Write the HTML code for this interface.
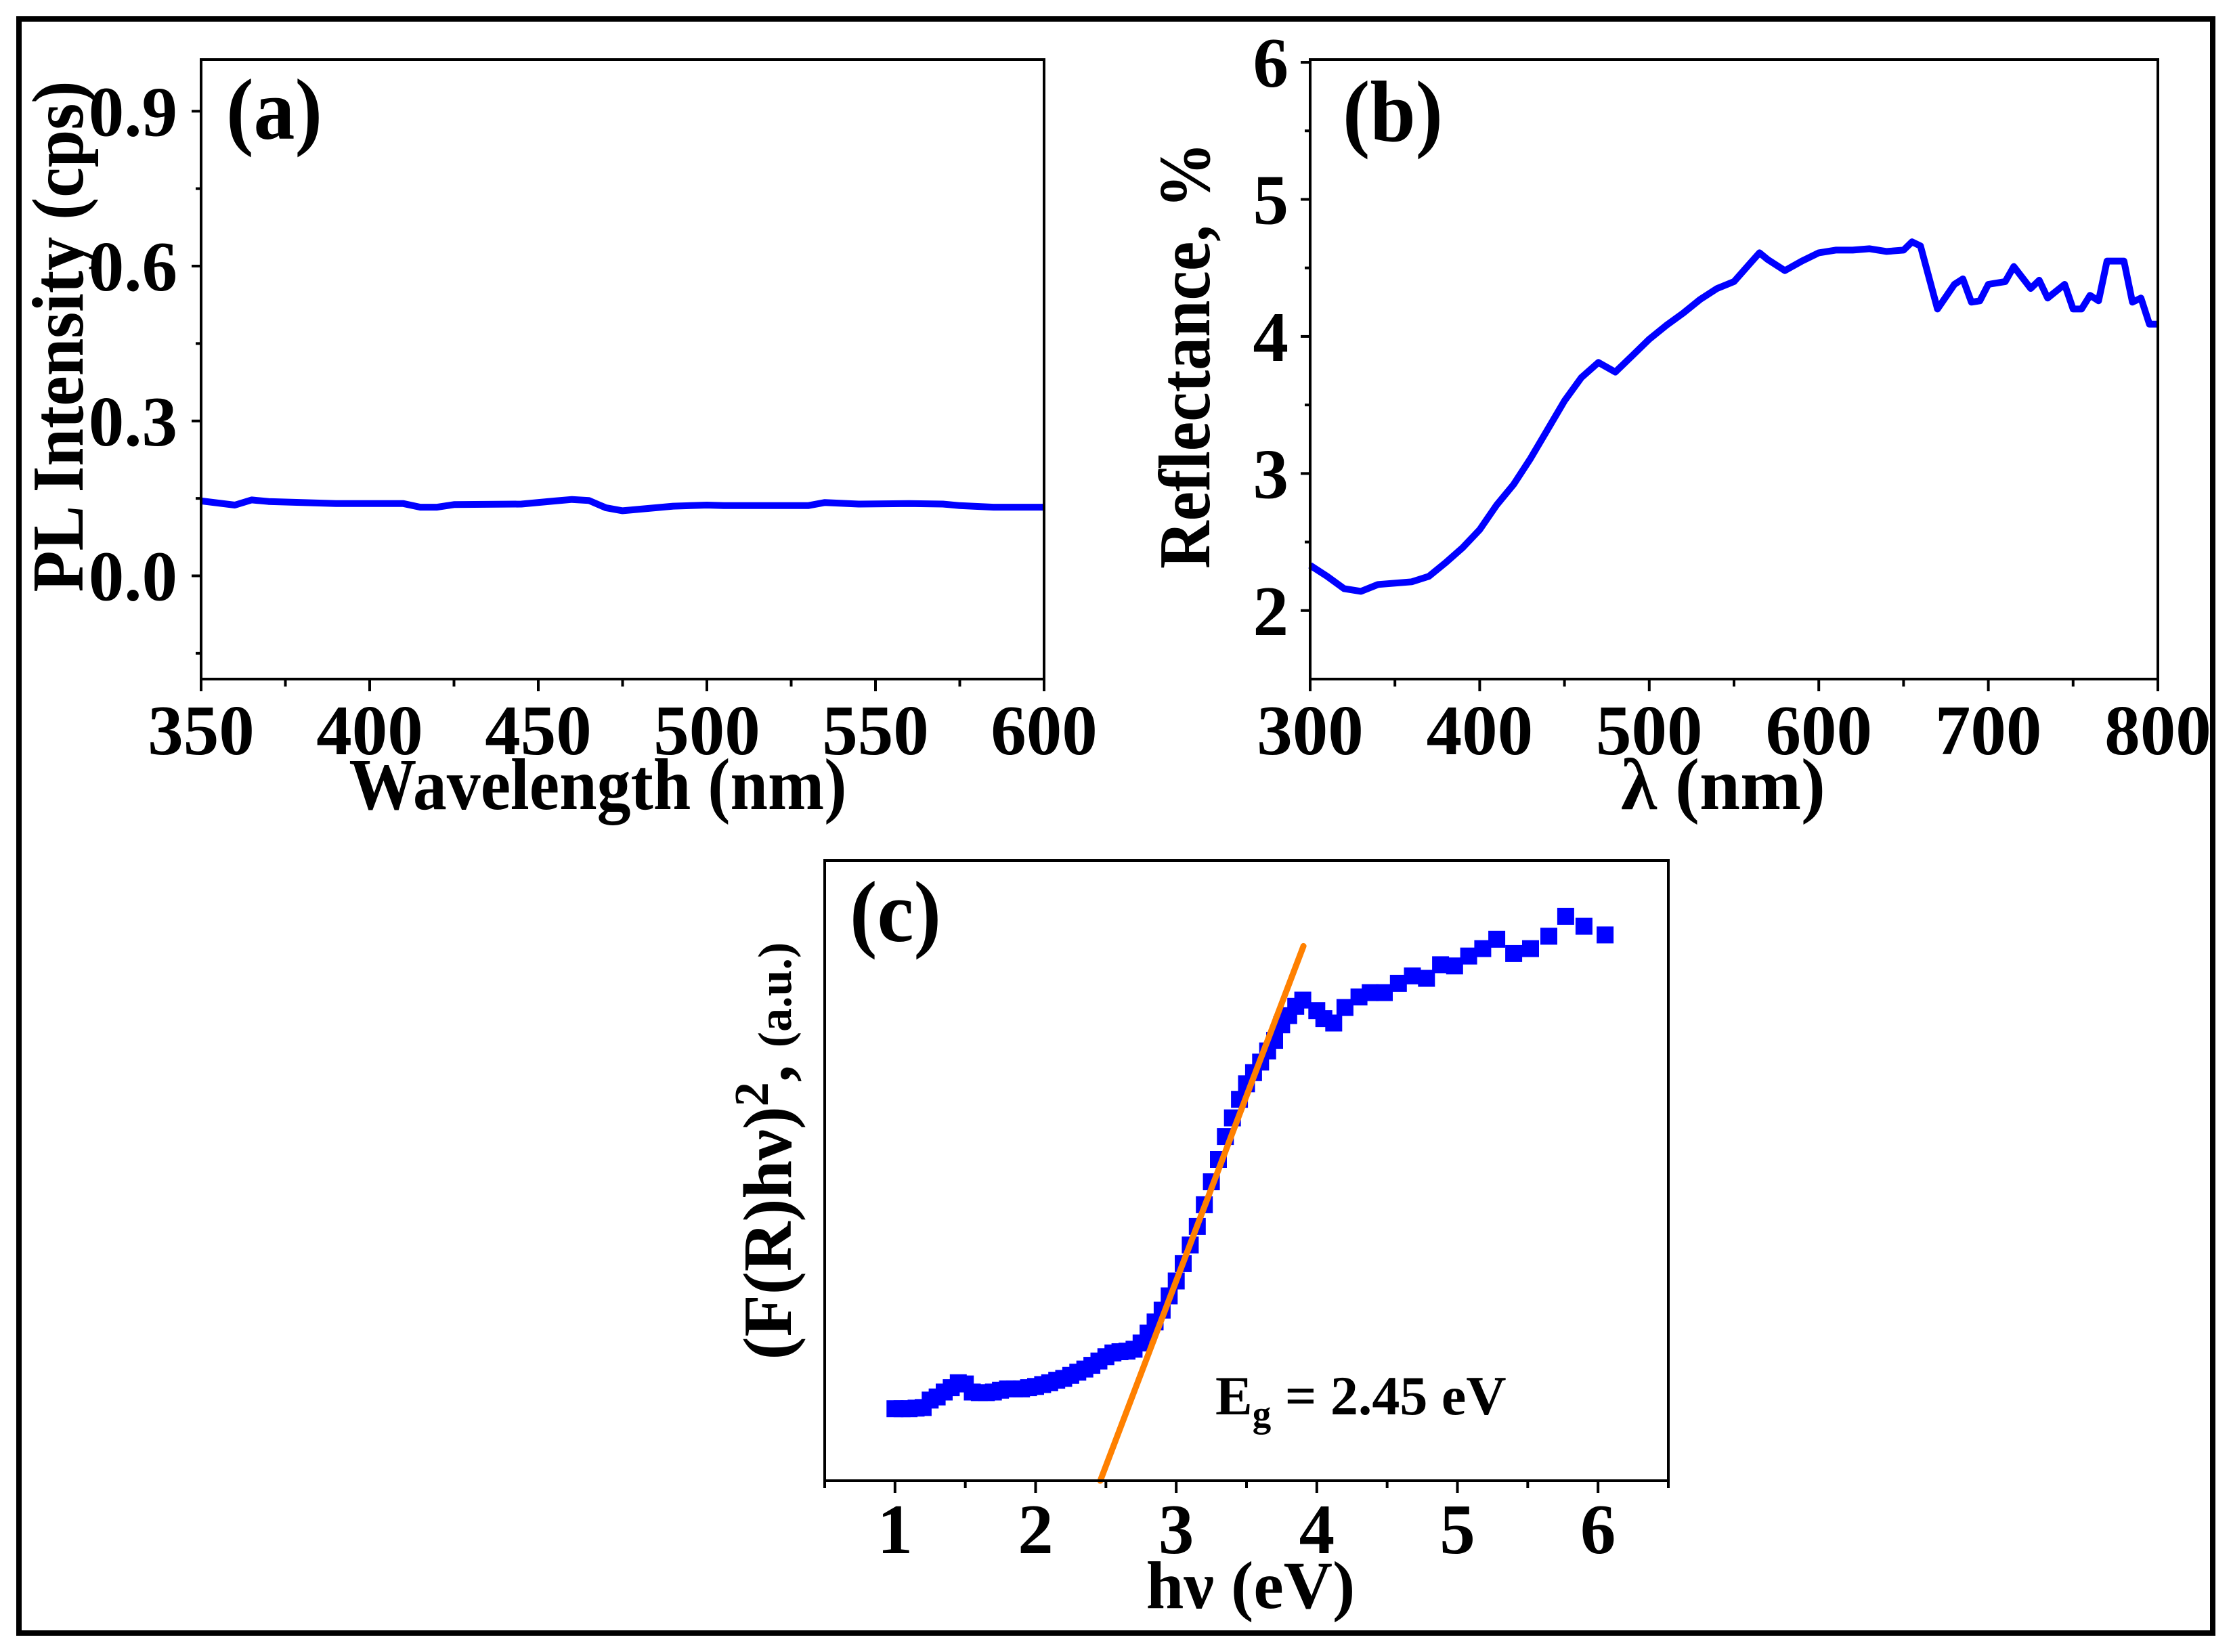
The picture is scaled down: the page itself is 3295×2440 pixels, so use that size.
<!DOCTYPE html>
<html><head><meta charset="utf-8"><style>
html,body{margin:0;padding:0;background:#fff}
svg{display:block}
text{font-family:"Liberation Serif",serif;font-weight:bold;fill:#000}
</style></head><body>
<svg id="fig" width="3295" height="2440" viewBox="0 0 3295 2440" xmlns="http://www.w3.org/2000/svg">
<rect x="0" y="0" width="3295" height="2440" fill="#fff"/>
<rect x="28" y="28" width="3240" height="2384" fill="none" stroke="#000" stroke-width="8"/>
<g id="pa"></g>
<g id="pb"></g>
<g id="pc"></g>
</svg>
<script>
// Panel (a) data
const aX = [350,360,365,370,390,410,415,420,425,445,455,460,465,470,475,490,500,505,530,535,545,560,570,575,585,600];
const aY = [0.145,0.137,0.147,0.144,0.140,0.140,0.133,0.133,0.138,0.139,0.145,0.148,0.146,0.132,0.126,0.135,0.137,0.136,0.136,0.142,0.139,0.140,0.139,0.136,0.133,0.133];
const aXTicks = ["350","400","450","500","550","600"];
const aYTicks = ["0.0","0.3","0.6","0.9"];
// Panel (b) data
const bX = [300,310,320,330,340,350,360,370,380,390,400,410,420,430,440,450,460,470,480,490,500,510,520,530,540,550,560,565,570,580,590,600,610,620,630,640,650,655,660,670,680,685,690,695,700,710,715,725,730,735,745,750,755,760,765,770,780,785,790,795,800];
const bY = [2.33,2.25,2.16,2.14,2.19,2.20,2.21,2.25,2.35,2.46,2.59,2.77,2.92,3.11,3.32,3.53,3.70,3.81,3.74,3.86,3.98,4.08,4.17,4.27,4.35,4.40,4.54,4.61,4.56,4.48,4.55,4.61,4.63,4.63,4.64,4.62,4.63,4.69,4.66,4.20,4.38,4.42,4.25,4.26,4.38,4.40,4.51,4.35,4.41,4.28,4.38,4.20,4.20,4.30,4.26,4.55,4.55,4.25,4.28,4.09,4.09];
const bXTicks = ["300","400","500","600","700","800"];
const bYTicks = ["2","3","4","5","6"];
// Panel (c) data
const cX = [1.00,1.05,1.10,1.15,1.20,1.25,1.30,1.35,1.40,1.45,1.50,1.55,1.60,1.65,1.70,1.75,1.80,1.85,1.90,1.95,2.00,2.05,2.10,2.15,2.20,2.25,2.30,2.35,2.40,2.45,2.50,2.55,2.60,2.65,2.70,2.75,2.80,2.85,2.90,2.95,3.00,3.05,3.10,3.15,3.20,3.25,3.30,3.35,3.40,3.45,3.50,3.55,3.60,3.65,3.70,3.75,3.80,3.85,3.90,4.00,4.05,4.12,4.20,4.30,4.38,4.48,4.58,4.68,4.78,4.88,4.98,5.08,5.18,5.28,5.40,5.52,5.65,5.77,5.90,6.05];
const cY = [11.6,11.6,11.6,11.7,11.8,13.0,13.5,14.3,15.0,15.8,15.6,14.3,14.2,14.2,14.3,14.6,14.8,14.8,14.8,15.0,15.2,15.5,15.8,16.2,16.5,17.0,17.5,18.0,18.6,19.3,20.0,20.6,20.8,20.9,21.2,22.2,23.8,25.6,27.5,29.8,32.2,35.0,38.0,41.0,44.5,48.2,51.8,55.5,58.5,61.5,64.0,65.8,67.5,69.3,71.0,73.5,75.0,76.5,77.5,75.8,74.5,73.8,76.3,78.0,78.7,78.7,80.2,81.4,81.0,83.2,83.0,84.6,85.8,87.3,85.0,85.8,87.8,91.0,89.4,88.0];
const cXTicks = ["1","2","3","4","5","6"];
const fitX = [2.46,3.905];
const fitY = [0,86.2];

const NS="http://www.w3.org/2000/svg";
function mk(parent,tag,attrs){const e=document.createElementNS(NS,tag);for(const k in attrs)e.setAttribute(k,attrs[k]);parent.appendChild(e);return e;}
function scale(d0,d1,r0,r1){return v=>r0+(v-d0)/(d1-d0)*(r1-r0);}

function axesBox(g,L,T,R,B,name){
  const r=mk(g,'rect',{x:L,y:T,width:R-L,height:B-T,fill:'none',stroke:'#000','stroke-width':4});
  
  
}
function xTicks(g,sx,B,labels,minors,ly,fs,name){
  labels.forEach(t=>{const v=parseFloat(t);const x=sx(v);
    const l=mk(g,'line',{x1:x,y1:B,x2:x,y2:B+18,stroke:'#000','stroke-width':4});
    
    
    const tx=mk(g,'text',{x:x,y:ly,'text-anchor':'middle','font-size':fs});tx.textContent=t;
    
    
  });
  minors.forEach(v=>{const x=sx(v);
    const l=mk(g,'line',{x1:x,y1:B,x2:x,y2:B+11,stroke:'#000','stroke-width':4});
    
    
  });
}
function yTicks(g,sy,L,labels,minors,lx,fs,name){
  labels.forEach(t=>{const v=parseFloat(t);const y=sy(v);
    const l=mk(g,'line',{x1:L-14,y1:y,x2:L,y2:y,stroke:'#000','stroke-width':4});
    
    
    const tx=mk(g,'text',{x:lx,y:y+36,'text-anchor':'end','font-size':fs});tx.textContent=t;
    
    
  });
  minors.forEach(v=>{const y=sy(v);
    const l=mk(g,'line',{x1:L-8,y1:y,x2:L,y2:y,stroke:'#000','stroke-width':4});
    
    
  });
}
function txt(g,x,y,s,fs,name,extra){const t=mk(g,'text',Object.assign({x:x,y:y,'font-size':fs},extra||{}));t.textContent=s;
  
  return t;}
function line(g,xs,ys,sx,sy,name){
  const d=xs.map((v,i)=>(i?'L':'M')+sx(v).toFixed(1)+' '+sy(ys[i]).toFixed(1)).join(' ');
  const p=mk(g,'path',{d:d,fill:'none',stroke:'#0000ff','stroke-width':10,'stroke-linejoin':'round'});
  
  
}

// ---- Panel a
(function(){
  const g=document.getElementById('pa');
  const L=297,T=88,R=1542,B=1003;
  const sx=scale(350,600,L,R), sy=scale(-0.2,1.0,B,T);
  line(g,aX,aY,sx,sy,'pl-intensity-line');
  axesBox(g,L,T,R,B,'panel-a');
  xTicks(g,sx,B,aXTicks,[375,425,475,525,575],1114,105,'panel-a');
  yTicks(g,sy,L,aYTicks,[-0.15,0.15,0.45,0.75],262,105,'panel-a');
  txt(g,883,1195,'Wavelength (nm)',108,'panel-a-x-axis-title',{'text-anchor':'middle',textLength:735,lengthAdjust:'spacingAndGlyphs'});
  txt(g,0,0,'PL Intensity (cps)',108,'panel-a-y-axis-title',{'text-anchor':'middle',transform:'translate(122,497) rotate(-90)',textLength:755,lengthAdjust:'spacingAndGlyphs'});
  txt(g,334,205,'(a)',128,'panel-a-label',{textLength:142,lengthAdjust:'spacingAndGlyphs'});
})();
// ---- Panel b
(function(){
  const g=document.getElementById('pb');
  const L=1935,T=88,R=3187,B=1003;
  const sx=scale(300,800,L,R), sy=scale(1.5,6.02,B,T);
  line(g,bX,bY,sx,sy,'reflectance-line');
  axesBox(g,L,T,R,B,'panel-b');
  xTicks(g,sx,B,bXTicks,[350,450,550,650,750],1114,105,'panel-b');
  yTicks(g,sy,L,bYTicks,[2.5,3.5,4.5,5.5],1903,105,'panel-b');
  txt(g,2545,1195,'λ (nm)',108,'panel-b-x-axis-title',{'text-anchor':'middle'});
  txt(g,0,0,'Reflectance, %',108,'panel-b-y-axis-title',{'text-anchor':'middle',transform:'translate(1786,525) rotate(-90)',textLength:630,lengthAdjust:'spacingAndGlyphs'});
  txt(g,1983,208,'(b)',128,'panel-b-label',{textLength:148,lengthAdjust:'spacingAndGlyphs'});
})();
// ---- Panel c
(function(){
  const g=document.getElementById('pc');
  const L=1218,T=1271,R=2464,B=2187;
  const sx=scale(0.5,6.5,L,R), sy=scale(0,100,B,T);
  cX.forEach((v,i)=>{
    const r=mk(g,'rect',{x:(sx(v)-12.5).toFixed(1),y:(sy(cY[i])-12.5).toFixed(1),width:25,height:25,fill:'#0000ff'});
    
    
  });
  const f=mk(g,'line',{x1:sx(fitX[0]),y1:sy(fitY[0]),x2:sx(fitX[1]),y2:sy(fitY[1]),stroke:'#ff8000','stroke-width':9,'stroke-linecap':'round'});
  
  
  axesBox(g,L,T,R,B,'panel-c');
  xTicks(g,sx,B,cXTicks,[0.5,1.5,2.5,3.5,4.5,5.5,6.5],2294,105,'panel-c');
  txt(g,1847,2375,'hν (eV)',100,'panel-c-x-axis-title',{'text-anchor':'middle'});
  const yt=txt(g,0,0,'',102,'panel-c-y-axis-title',{'text-anchor':'middle',transform:'translate(1168,1700) rotate(-90)'});
  yt.innerHTML='(F(R)hν)<tspan font-size="72" dy="-34">2</tspan><tspan dy="34">, </tspan><tspan font-size="70">(a.u.)</tspan>';
  txt(g,1255,1390,'(c)',128,'panel-c-label',{textLength:135,lengthAdjust:'spacingAndGlyphs'});
  const eg=txt(g,1795,2089,'',82,'band-gap-annotation');
  eg.innerHTML='E<tspan font-size="55" dy="18">g</tspan><tspan dy="-18"> = 2.45 eV</tspan>';
})();
</script>
</body></html>
